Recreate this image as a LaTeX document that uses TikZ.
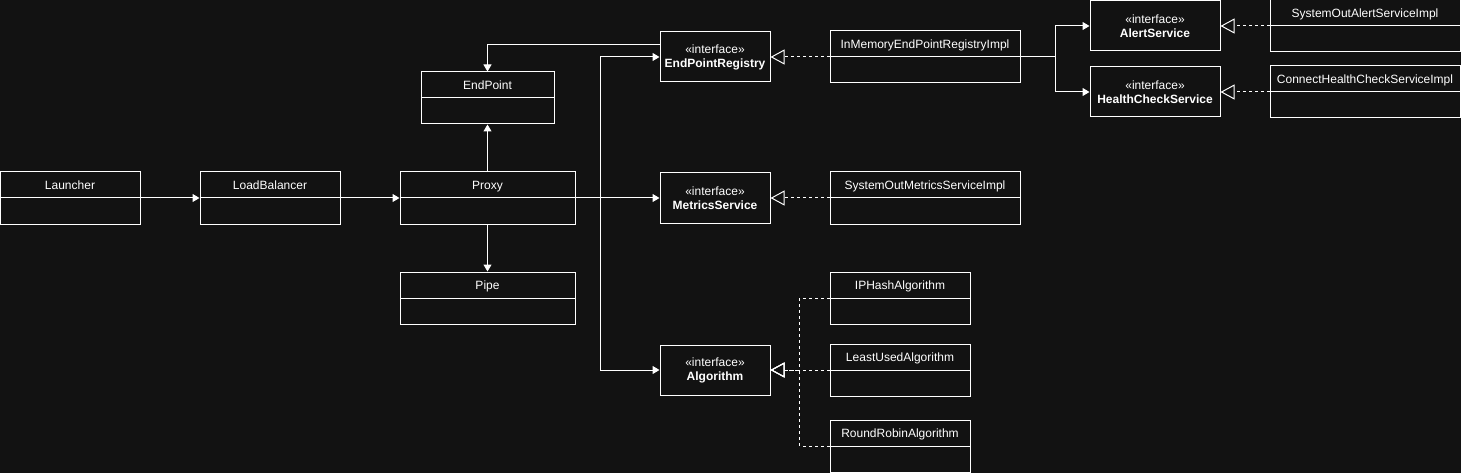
\documentclass[tikz,border=0pt]{standalone}
\usepackage{fontspec}
\setmainfont{Liberation Sans}
\usetikzlibrary{arrows.meta}
\definecolor{bg}{RGB}{18,18,18}

\begin{document}
\begin{tikzpicture}[x=1pt,y=-1pt,
    every node/.style={font=\fontsize{12}{14}\selectfont,text=white},
    cls/.style={rectangle,draw=white,line width=1pt,minimum height=52pt,text height=9pt,text depth=26.4pt,
        path picture={\draw[white,line width=1pt] (path picture bounding box.west) -- (path picture bounding box.east);}},
    ifc/.style={rectangle,draw=white,line width=1pt,minimum width=110pt,minimum height=50pt,align=center},
    arr/.style={-{Triangle[length=7pt,width=8pt]},white,line width=1pt},
    real/.style={-{Triangle[open,length=14pt,width=15pt]},white,line width=1pt,dash pattern=on 3pt off 3pt},
]
\path[use as bounding box,fill=bg] (0,0) rectangle (1461,473);

\node[cls,minimum width=140pt] (launcher) at (70,198) {Launcher};
\node[cls,minimum width=140pt] (loadbal) at (270,198) {LoadBalancer};
\node[cls,minimum width=175pt] (proxy) at (487.5,198) {Proxy};
\node[cls,minimum width=133pt] (endpoint) at (487.5,98) {EndPoint};
\node[cls,minimum width=175pt] (pipe) at (487.5,298) {Pipe};

\node[ifc] (epreg) at (715,57) {«interface»\\\textbf{EndPointRegistry}};
\node[ifc] (metrics) at (715,198) {«interface»\\\textbf{MetricsService}};
\node[ifc] (algo) at (715,370) {«interface»\\\textbf{Algorithm}};
\node[ifc,minimum width=130pt] (alert) at (1155,26) {«interface»\\\textbf{AlertService}};
\node[ifc,minimum width=130pt] (health) at (1155,92) {«interface»\\\textbf{HealthCheckService}};

\node[cls,minimum width=190pt] (inmem) at (925,57) {InMemoryEndPointRegistryImpl};
\node[cls,minimum width=190pt] (sysalert) at (1365,26) {SystemOutAlertServiceImpl};
\node[cls,minimum width=190pt] (connhc) at (1365,92) {ConnectHealthCheckServiceImpl};
\node[cls,minimum width=190pt] (sysmet) at (925,198) {SystemOutMetricsServiceImpl};
\node[cls,minimum width=140pt] (iphash) at (900,298) {IPHashAlgorithm};
\node[cls,minimum width=140pt] (leastused) at (900,370) {LeastUsedAlgorithm};
\node[cls,minimum width=140pt] (roundrobin) at (900,446) {RoundRobinAlgorithm};

% associations
\draw[arr] (launcher.east) -- (loadbal.west);
\draw[arr] (loadbal.east) -- (proxy.west);
\draw[arr] (proxy.north) -- (endpoint.south);
\draw[arr] (proxy.south) -- (pipe.north);
\draw[arr] (proxy.east) -- (metrics.west);
\draw[arr] (proxy.east) -- ++(25,0) |- (epreg.west);
\draw[arr] (proxy.east) -- ++(25,0) |- (algo.west);
\draw[arr] ([yshift=12pt]epreg.west) -| (endpoint.north);
\draw[arr] (inmem.east) -- ++(35,0) |- (alert.west);
\draw[arr] (inmem.east) -- ++(35,0) |- (health.west);

% realizations
\draw[real] (inmem.west) -- (epreg.east);
\draw[real] (sysalert.west) -- (alert.east);
\draw[real] (connhc.west) -- (health.east);
\draw[real] (sysmet.west) -- (metrics.east);
\draw[real] (iphash.west) -- ++(-30,0) |- (algo.east);
\draw[real] (leastused.west) -- (algo.east);
\draw[real] (roundrobin.west) -- ++(-30,0) |- (algo.east);
\end{tikzpicture}
\end{document}
